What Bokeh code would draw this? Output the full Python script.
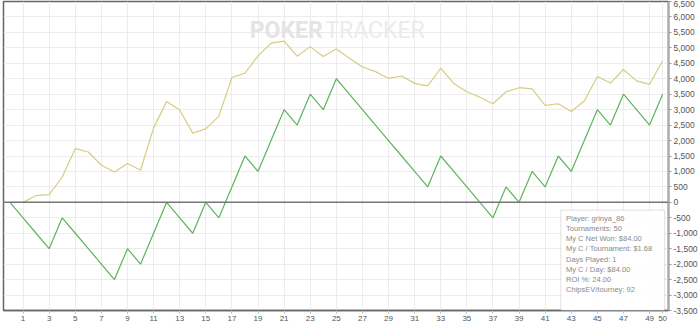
from bokeh.plotting import figure
from bokeh.models import (Range1d, FixedTicker, SingleIntervalTicker, NumeralTickFormatter,
                          Span, Label, BoxAnnotation)
from bokeh.embed import file_html
from bokeh.resources import INLINE

tournaments = list(range(0, 51))
net_won = [0, -500, -1000, -1500, -500, -1000, -1500, -2000, -2500, -1500,
           -2000, -1000, 0, -500, -1000, 0, -500, 500, 1500, 1000,
           2000, 3000, 2500, 3500, 3000, 4000, 3500, 3000, 2500, 2000,
           1500, 1000, 500, 1500, 1000, 500, 0, -500, 500, 0,
           1000, 500, 1500, 1000, 2000, 3000, 2500, 3500, 3000, 2500, 3500]
chips_ev = [0, 0, 220, 250, 820, 1740, 1630, 1200, 985, 1255,
            1040, 2410, 3260, 2990, 2240, 2380, 2790, 4040, 4180, 4740,
            5150, 5220, 4730, 5040, 4720, 4960, 4665, 4380, 4230, 4010,
            4090, 3850, 3770, 4340, 3850, 3580, 3400, 3190, 3580, 3710,
            3670, 3140, 3190, 2940, 3280, 4070, 3860, 4300, 3930, 3820, 4580]
x_ticks = list(range(1, 50, 2)) + [50]
info_lines = ["Player: grinya_86", "Tournaments: 50", "My C Net Won: $84.00",
              "My C / Tournament: $1.68", "Days Played: 1", "My C / Day: $84.00",
              "ROI %: 24.00", "ChipsEV/tourney: 92"]

FONT = "Liberation Sans"

p = figure(width=700, height=323, output_backend="svg", toolbar_location=None,
           x_range=Range1d(-0.5, 50.45), y_range=Range1d(-3500, 6500),
           y_axis_location="right",
           min_border_left=3, min_border_right=30, min_border_top=1, min_border_bottom=0)
p.background_fill_color = "white"
p.border_fill_color = "white"
p.outline_line_color = "#666666"
p.outline_line_width = 1.5

# axes
p.xaxis.ticker = FixedTicker(ticks=x_ticks)
p.xaxis.major_label_text_font = FONT
p.xaxis.major_label_text_font_size = "8px"
p.xaxis.major_label_text_color = "#555555"
p.xaxis.axis_line_color = "#666666"
p.xaxis.axis_line_width = 1.5
p.xaxis.major_tick_out = 3
p.xaxis.major_tick_in = 0
p.xaxis.major_tick_line_color = "#bbbbbb"
p.xaxis.minor_tick_line_color = None
p.xaxis.major_label_standoff = 2

p.yaxis.ticker = SingleIntervalTicker(interval=500, num_minor_ticks=0)
p.yaxis.formatter = NumeralTickFormatter(format="0,0")
p.yaxis.major_label_text_font = FONT
p.yaxis.major_label_text_font_size = "8.5px"
p.yaxis.major_label_text_color = "#555555"
p.yaxis.axis_line_color = "#aaaaaa"
p.yaxis.axis_line_width = 2
p.yaxis.major_tick_out = 3
p.yaxis.major_tick_in = 0
p.yaxis.major_tick_line_color = "#999999"
p.yaxis.minor_tick_line_color = None
p.yaxis.major_label_standoff = 2

p.xgrid.ticker = FixedTicker(ticks=x_ticks)
p.xgrid.grid_line_color = "#ececec"
p.ygrid.grid_line_color = "#ececec"

# watermark
p.add_layout(Label(x=18.37, y=5560, text="POKER", text_font="Roboto",
                   text_font_style="bold", text_font_size="23px", text_color="#e4e4e4",
                   text_baseline="middle", text_align="left"))
p.add_layout(Label(x=24.15, y=5560, text="TRACKER", text_font="Roboto",
                   text_font_size="23px", text_color="#ebebeb",
                   text_baseline="middle", text_align="left"))

# zero line
p.add_layout(Span(location=0, dimension="width", line_color="#777777", line_width=1.5))

# series
p.line(tournaments, chips_ev, line_color="#d6cd82", line_width=1.2)
p.line(tournaments, net_won, line_color="#5cb45c", line_width=1.2)

# info box
p.add_layout(BoxAnnotation(left=42.2, right=50.15, top=-253, bottom=-3500,
                           fill_color="white", fill_alpha=0.9,
                           line_color="#9a9a9a", line_width=1))
for i, t in enumerate(info_lines):
    p.add_layout(Label(x=42.6, y=-523 - i * 328, text=t, text_font=FONT,
                       text_font_size="7.5px", text_color="#8a8a8a",
                       text_baseline="middle", text_align="left"))

open("out.html", "w").write(file_html(p, INLINE))
